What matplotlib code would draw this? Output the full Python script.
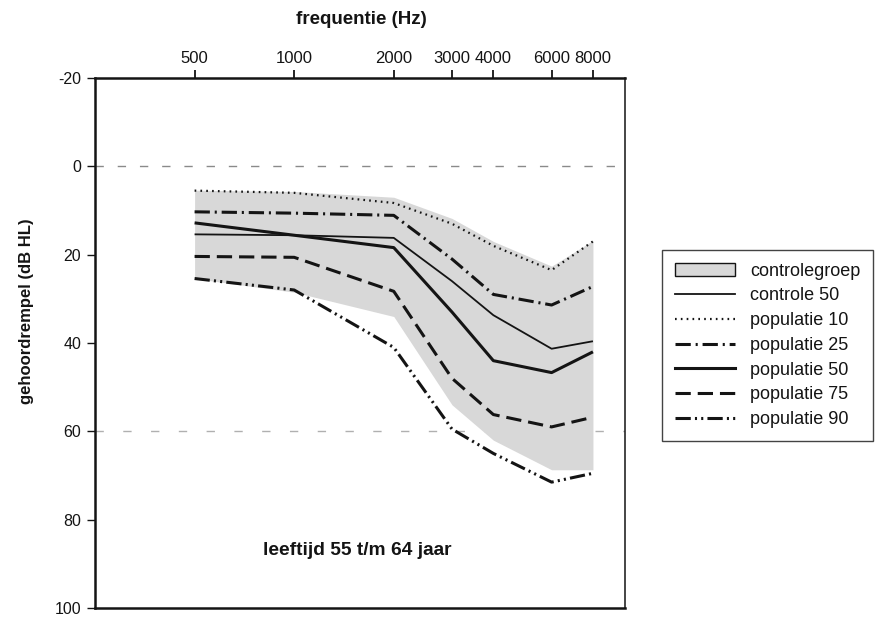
import matplotlib
matplotlib.use("Agg")
import matplotlib.pyplot as plt
from matplotlib.patches import Patch
from matplotlib.lines import Line2D

plt.rcParams['font.family'] = ['Liberation Sans', 'DejaVu Sans']
plt.rcParams['lines.scale_dashes'] = False

# ---- data ----
freqs = [500, 1000, 2000, 3000, 4000, 6000, 8000]
freq_labels = ["500", "1000", "2000", "3000", "4000", "6000", "8000"]
y_ticks = [-20, 0, 20, 40, 60, 80, 100]
y_labels = ["-20", "0", "20", "40", "60", "80", "100"]

band_low = [5.4, 5.7, 7.0, 11.8, 17.0, 22.6, 16.8]     # controlegroep upper edge (dB)
band_high = [25.4, 28.5, 34.0, 54.0, 62.0, 68.7, 68.7]  # controlegroep lower edge (dB)
controle_50 = [15.4, 15.6, 16.2, 26.0, 33.7, 41.3, 39.6]
pop_10 = [5.5, 6.0, 8.3, 13.0, 18.0, 23.5, 17.0]
pop_25 = [10.3, 10.6, 11.1, 21.0, 29.0, 31.4, 27.2]
pop_50 = [12.8, 15.6, 18.4, 33.0, 44.0, 46.7, 42.0]
pop_75 = [20.4, 20.6, 28.3, 48.0, 56.2, 59.0, 56.8]
pop_90 = [25.4, 28.0, 41.0, 59.5, 65.0, 71.5, 69.5]

legend_labels = ["controlegroep", "controle 50", "populatie 10", "populatie 25",
                 "populatie 50", "populatie 75", "populatie 90"]

# ---- figure ----
fig = plt.figure(figsize=(8.8, 6.23), dpi=100)
ax = fig.add_axes([95/880, 1-608/623, 530/880, 530/623])

ink = '#141414'
band_color = '#d8d8d8'

# faint gridline remnants
ax.axhline(0, color='#8a8a8a', lw=1.0, ls=(0, (6, 10)), zorder=1)
ax.axhline(60, color='#b0b0b0', lw=1.0, ls=(0, (6, 14)), zorder=1)

ax.fill_between(freqs, band_low, band_high, color=band_color, lw=0, zorder=2)

styles = {
    'controle 50': dict(ls='-', lw=1.3),
    'populatie 10': dict(ls=(0, (1.2, 3.0)), lw=1.6),
    'populatie 25': dict(ls=(0, (11, 3.5, 1.5, 3.5)), lw=2.2),
    'populatie 50': dict(ls='-', lw=2.2),
    'populatie 75': dict(ls=(0, (11, 5)), lw=2.2),
    'populatie 90': dict(ls=(0, (11, 3, 1.5, 3, 1.5, 3)), lw=2.2),
}
series = {
    'controle 50': controle_50,
    'populatie 10': pop_10,
    'populatie 25': pop_25,
    'populatie 50': pop_50,
    'populatie 75': pop_75,
    'populatie 90': pop_90,
}
handles = [Patch(facecolor=band_color, edgecolor=ink, lw=1.0)]
for name, vals in series.items():
    st = styles[name]
    ax.plot(freqs, vals, color=ink, zorder=3, solid_capstyle='butt',
            dash_capstyle='butt', **st)
    handles.append(Line2D([], [], color=ink, **st))

ax.set_xscale('log')
ax.set_xlim(250, 10000)
ax.set_ylim(100, -20)
ax.set_xticks(freqs)
ax.set_xticklabels(freq_labels)
ax.xaxis.set_minor_locator(matplotlib.ticker.NullLocator())
ax.set_yticks(y_ticks)
ax.set_yticklabels(y_labels)
ax.xaxis.tick_top()
ax.tick_params(axis='x', which='major', direction='out', length=6, width=1.3,
               labelsize=12, pad=2.5, colors=ink)
ax.tick_params(axis='y', which='major', direction='out', length=6, width=1.0,
               labelsize=11.5, pad=4, colors=ink)

for side in ['top', 'left', 'bottom']:
    ax.spines[side].set_linewidth(1.8)
    ax.spines[side].set_color(ink)
ax.spines['right'].set_linewidth(1.1)
ax.spines['right'].set_color(ink)

fig.text(361/880, 1-19/623, "frequentie (Hz)", ha='center', va='center',
         fontsize=13.5, fontweight='bold', color=ink)
fig.text(27/880, 1-311/623, "gehoordrempel (dB HL)", ha='center', va='center',
         rotation=90, fontsize=12, fontweight='bold', color=ink)
ax.text(1548, 86.9, "leeftijd 55 t/m 64 jaar", ha='center', va='center',
        fontsize=13.8, fontweight='bold', color=ink)

leg = fig.legend(handles, legend_labels, loc='upper left',
                 bbox_to_anchor=(662/880, 1-250/623), frameon=True,
                 fancybox=False, fontsize=13, handlelength=3.33,
                 handletextpad=0.83, labelspacing=0.43, borderpad=0.7,
                 borderaxespad=0)
leg.get_frame().set_edgecolor(ink)
leg.get_frame().set_linewidth(1.0)
for t in leg.get_texts():
    t.set_color(ink)

fig.savefig("out.png", dpi=100)
